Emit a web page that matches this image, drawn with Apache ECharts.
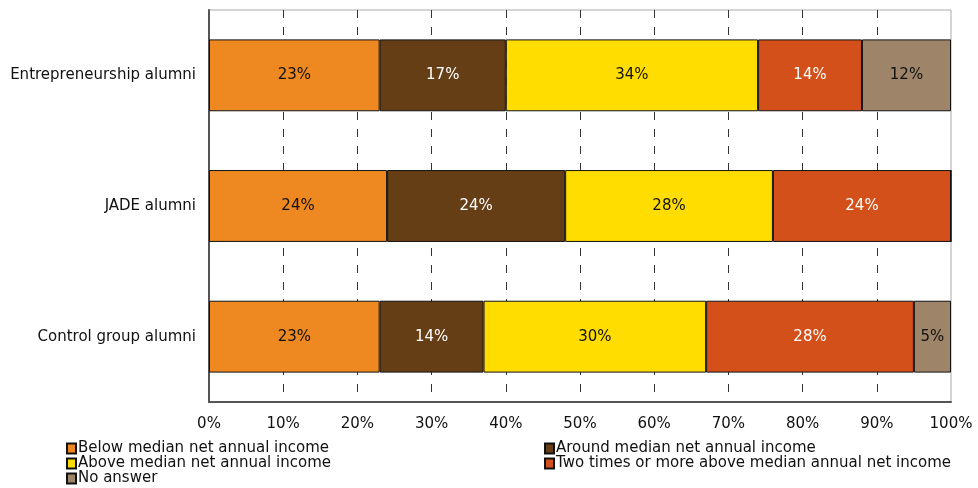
<!DOCTYPE html>
<html><head><meta charset="utf-8">
<script src="https://cdn.jsdelivr.net/npm/echarts@6/dist/echarts.min.js"></script>
<style>html,body{margin:0;padding:0;background:#fff}#c{width:978px;height:488px}</style>
</head><body><div id="c"></div>
<script>
const categories = ['Entrepreneurship alumni', 'JADE alumni', 'Control group alumni'];
const seriesNames = ['Below median net annual income', 'Around median net annual income', 'Above median net annual income', 'Two times or more above median annual net income', 'No answer'];
const belowMedian = [23, 24, 23];
const aroundMedian = [17, 24, 14];
const aboveMedian = [34, 28, 30];
const twoTimesAbove = [14, 24, 28];
const noAnswer = [12, 0, 5];
const xTicks = [0, 10, 20, 30, 40, 50, 60, 70, 80, 90, 100];

const colors = ['#EE8820', '#663E15', '#FFDD00', '#D4501A', '#9E8468'];
const labelColors = ['#111', '#fff', '#111', '#fff', '#111'];
const values = [belowMedian, aroundMedian, aboveMedian, twoTimesAbove, noAnswer];
const FONT = 'DejaVu Sans';

const legendCommon = {orient: 'vertical', top: 436, height: 60, itemGap: 0, itemWidth: 9, itemHeight: 10, icon: 'rect',
  textStyle: {fontSize: 15, lineHeight: 15, color: '#111', fontFamily: FONT, padding: [0, 0, 0, -3]}};

const chart = echarts.init(document.getElementById('c'));
chart.setOption({
  animation: false,
  textStyle: {fontFamily: FONT},
  grid: {left: 209, right: 27, top: 10, bottom: 86, show: true, borderColor: '#aaa', borderWidth: 1, containLabel: false},
  xAxis: {
    type: 'value', min: xTicks[0], max: xTicks[xTicks.length - 1], interval: 10,
    axisLine: {show: true, lineStyle: {color: '#555', width: 2}},
    axisTick: {show: false},
    axisLabel: {formatter: '{value}%', color: '#111', fontSize: 15, margin: 15, fontFamily: FONT},
    splitLine: {show: true, showMinLine: false, showMaxLine: false, lineStyle: {color: '#333', type: [8, 9], width: 1}}
  },
  yAxis: {
    type: 'category', data: categories, inverse: true,
    axisLine: {show: true, lineStyle: {color: '#555', width: 2}},
    axisTick: {show: false},
    axisLabel: {color: '#111', fontSize: 15, margin: 13, fontFamily: FONT}
  },
  legend: [
    Object.assign({left: 61, data: [seriesNames[0], seriesNames[2], seriesNames[4]]}, legendCommon),
    Object.assign({left: 539, data: [seriesNames[1], seriesNames[3]]}, legendCommon)
  ],
  series: seriesNames.map((name, i) => ({
    name, type: 'bar', stack: 'total', barWidth: '55%',
    data: values[i],
    itemStyle: {color: colors[i], borderColor: '#111', borderWidth: 1},
    label: {show: true, position: 'inside', color: labelColors[i], fontSize: 15, fontFamily: FONT,
            formatter: p => p.value > 0 ? p.value + '%' : ''}
  }))
});
</script></body></html>
